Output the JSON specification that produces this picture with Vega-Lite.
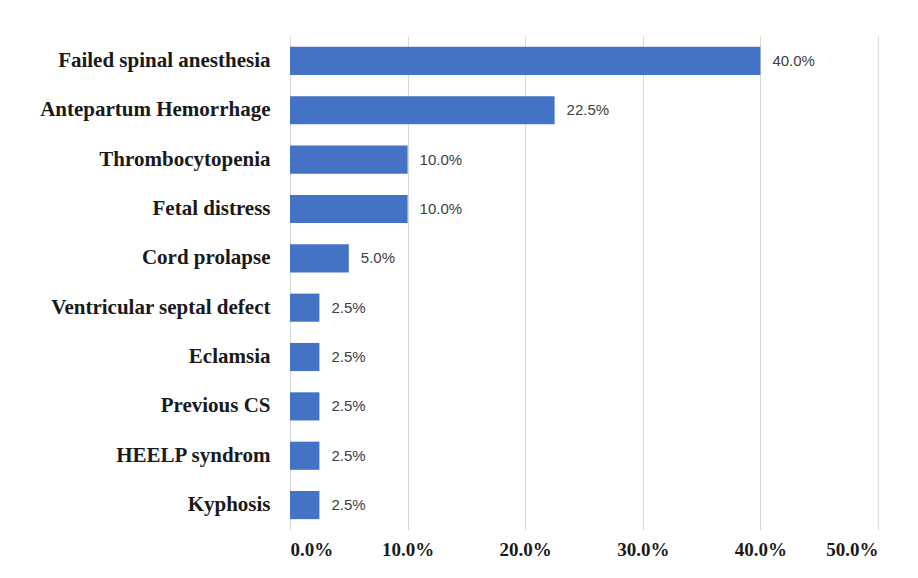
{
  "$schema": "https://vega.github.io/schema/vega-lite/v6.json",
  "autosize": {"type": "none"},
  "padding": {"left": 290, "top": 36, "right": 40, "bottom": 48},
  "width": 588,
  "height": 494,
  "background": "white",
  "config": {"view": {"stroke": null}},
  "data": {"values": [
    {"cause": "Failed spinal anesthesia", "pct": 0.40},
    {"cause": "Antepartum Hemorrhage", "pct": 0.225},
    {"cause": "Thrombocytopenia", "pct": 0.10},
    {"cause": "Fetal distress", "pct": 0.10},
    {"cause": "Cord prolapse", "pct": 0.05},
    {"cause": "Ventricular septal defect", "pct": 0.025},
    {"cause": "Eclamsia", "pct": 0.025},
    {"cause": "Previous CS", "pct": 0.025},
    {"cause": "HEELP syndrom", "pct": 0.025},
    {"cause": "Kyphosis", "pct": 0.025}
  ]},
  "encoding": {
    "y": {"field": "cause", "type": "nominal", "sort": null,
      "scale": {"paddingInner": 0.43, "paddingOuter": 0.22},
      "axis": {"title": null, "domain": false, "ticks": false, "labelPadding": 20,
        "labelFont": "Liberation Serif", "labelFontWeight": "bold", "labelFontSize": 21,
        "labelColor": "#1a1a1a", "labelLimit": 300}},
    "x": {"field": "pct", "type": "quantitative",
      "scale": {"domain": [0, 0.5], "nice": false},
      "axis": {"title": null, "format": ".1%", "values": [0, 0.1, 0.2, 0.3, 0.4, 0.5],
        "domain": false, "ticks": false, "labelPadding": 10,
        "labelFont": "Liberation Serif", "labelFontWeight": "bold", "labelFontSize": 19,
        "labelColor": "#1a1a1a", "gridColor": "#d9d9d9", "gridWidth": 1}}
  },
  "layer": [
    {"mark": {"type": "bar", "color": "#4472C4"}},
    {"mark": {"type": "text", "align": "left", "dx": 12, "font": "Liberation Sans", "fontSize": 15, "color": "#404040"},
     "encoding": {"text": {"field": "pct", "type": "quantitative", "format": ".1%"}}}
  ]
}
